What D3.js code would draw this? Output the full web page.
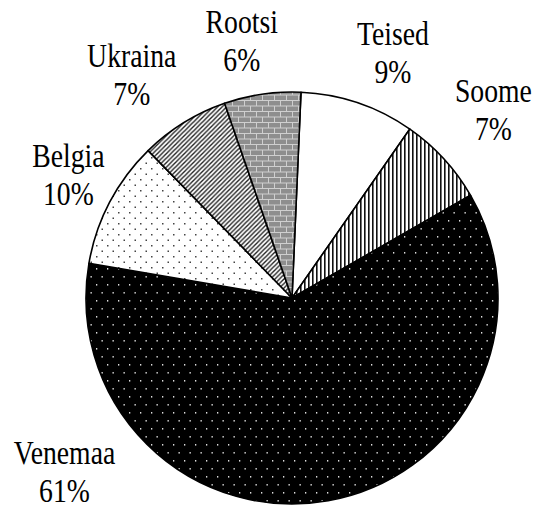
<!DOCTYPE html>
<html>
<head>
<meta charset="utf-8">
<script src="https://cdn.jsdelivr.net/npm/d3@7"></script>
<style>
  body { margin: 0; background: #fff; }
  svg { display: block; }
</style>
</head>
<body>
<div name="chart"></div>
<script>
// slices, clockwise from 12 o'clock
const categories = ['Teised', 'Soome', 'Venemaa', 'Belgia', 'Ukraina', 'Rootsi'];
const shares = [9, 7, 61, 10, 7, 6];
const pctLabels = ['9%', '7%', '61%', '10%', '7%', '6%'];

const svgWidth = 535, svgHeight = 509;
const cx = 292, cy = 298, radius = 206;
const startDeg = 2.5;

// label nudges away from the label ring (layout only)
const labelRadius = 265;
const labelNudge = {
  Teised: [16, 6],
  Soome: [6, -9],
  Venemaa: [-274, -87],
  Belgia: [11, 0],
  Ukraina: [-21, 2],
  Rootsi: [-12, 5],
};

const svg = d3.select('div[name=chart]').append('svg')
  .attr('width', svgWidth)
  .attr('height', svgHeight);

const defs = svg.append('defs');

// --- fill patterns
let p = defs.append('pattern').attr('id', 'p-soome')
  .attr('patternUnits', 'userSpaceOnUse').attr('width', 4).attr('height', 4);
p.append('rect').attr('width', 4).attr('height', 4).attr('fill', '#fff');
p.append('rect').attr('width', 1.6).attr('height', 4).attr('fill', '#111');

p = defs.append('pattern').attr('id', 'p-venemaa')
  .attr('patternUnits', 'userSpaceOnUse').attr('width', 11).attr('height', 16);
p.append('rect').attr('width', 11).attr('height', 16).attr('fill', '#000');
p.append('rect').attr('x', 2).attr('y', 2).attr('width', 1.3).attr('height', 1.6).attr('fill', '#ddd');
p.append('rect').attr('x', 7.5).attr('y', 10).attr('width', 1.3).attr('height', 1.6).attr('fill', '#ddd');

p = defs.append('pattern').attr('id', 'p-belgia')
  .attr('patternUnits', 'userSpaceOnUse').attr('width', 11).attr('height', 11);
p.append('rect').attr('width', 11).attr('height', 11).attr('fill', '#fff');
p.append('rect').attr('x', 2).attr('y', 2).attr('width', 1.5).attr('height', 1.5).attr('fill', '#444');
p.append('rect').attr('x', 7.5).attr('y', 7.5).attr('width', 1.5).attr('height', 1.5).attr('fill', '#444');

p = defs.append('pattern').attr('id', 'p-ukraina')
  .attr('patternUnits', 'userSpaceOnUse').attr('width', 4.5).attr('height', 4.5);
p.append('rect').attr('width', 4.5).attr('height', 4.5).attr('fill', '#fff');
p.append('path')
  .attr('d', 'M-1,5.5 L5.5,-1 M-1,1 L1,-1 M3.5,5.5 L5.5,3.5')
  .attr('stroke', '#222').attr('stroke-width', 1.4);

p = defs.append('pattern').attr('id', 'p-rootsi')
  .attr('patternUnits', 'userSpaceOnUse').attr('width', 12).attr('height', 11);
p.append('rect').attr('width', 12).attr('height', 11).attr('fill', '#8e8e8e');
p.append('path')
  .attr('d', 'M0,0.5 H12 M0,6 H12 M0.5,0.5 V6 M6.5,6 V11')
  .attr('stroke', '#cfcfcf').attr('stroke-width', 1);

const fills = {
  Teised: '#fff',
  Soome: 'url(#p-soome)',
  Venemaa: 'url(#p-venemaa)',
  Belgia: 'url(#p-belgia)',
  Ukraina: 'url(#p-ukraina)',
  Rootsi: 'url(#p-rootsi)',
};

const data = categories.map((c, i) => ({ name: c, value: shares[i], label: pctLabels[i] }));

const rad = d => d * Math.PI / 180;
const pie = d3.pie()
  .sort(null)
  .value(d => d.value)
  .startAngle(rad(startDeg))
  .endAngle(rad(startDeg + 360));
const arc = d3.arc().innerRadius(0).outerRadius(radius);

const g = svg.append('g').attr('transform', `translate(${cx},${cy})`);

g.selectAll('path.slice')
  .data(pie(data))
  .enter()
  .append('path')
  .attr('class', 'slice')
  .attr('d', arc)
  .attr('fill', d => fills[d.data.name])
  .attr('stroke', '#000')
  .attr('stroke-width', 1.6)
  .attr('stroke-linejoin', 'round');

// --- labels
const labels = g.selectAll('g.label')
  .data(pie(data))
  .enter()
  .append('g')
  .attr('class', 'label')
  .attr('transform', d => {
    const a = (d.startAngle + d.endAngle) / 2;
    const n = labelNudge[d.data.name];
    const x = labelRadius * Math.sin(a) + n[0];
    const y = -labelRadius * Math.cos(a) + n[1];
    return `translate(${x},${y})`;
  });

[['name', -8], ['label', 30]].forEach(([key, dy]) => {
  labels.append('g')
    .attr('transform', `translate(0,${dy}) scale(0.84,1)`)
    .append('text')
    .attr('text-anchor', 'middle')
    .attr('font-family', '"Liberation Serif", "Times New Roman", serif')
    .attr('font-size', 33)
    .attr('fill', '#000')
    .text(d => d.data[key]);
});
</script>
</body>
</html>
